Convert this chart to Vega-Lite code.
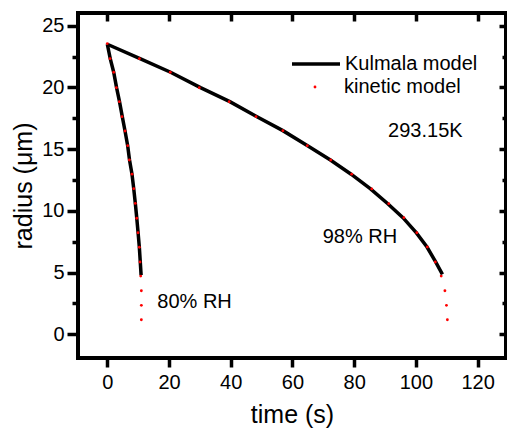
{
  "$schema": "https://vega.github.io/schema/vega-lite/v6.json",
  "width": 428,
  "height": 345,
  "autosize": "none",
  "padding": {"left": 78, "top": 13, "right": 1, "bottom": 73},
  "background": "white",
  "config": {
    "view": {"stroke": "black", "strokeWidth": 4},
    "axis": {
      "grid": false,
      "domain": false,
      "labelFont": "Liberation Sans",
      "titleFont": "Liberation Sans",
      "labelColor": "black",
      "titleColor": "black",
      "tickColor": "black",
      "tickWidth": 3.5,
      "labelFontSize": 20,
      "titleFontSize": 25,
      "titleFontWeight": "normal"
    },
    "legend": {
      "labelFont": "Liberation Sans",
      "labelFontSize": 20,
      "labelColor": "black",
      "padding": 0
    },
    "text": {"font": "Liberation Sans", "fontSize": 20, "color": "black"}
  },
  "data": {
    "values": [
      {"model": "Kulmala model", "rh": "80", "t": 0, "r": 23.5},
      {"model": "Kulmala model", "rh": "80", "t": 0.95, "r": 22.33},
      {"model": "Kulmala model", "rh": "80", "t": 2.07, "r": 21.23},
      {"model": "Kulmala model", "rh": "80", "t": 3.0, "r": 19.98},
      {"model": "Kulmala model", "rh": "80", "t": 3.95, "r": 18.85},
      {"model": "Kulmala model", "rh": "80", "t": 4.85, "r": 17.63},
      {"model": "Kulmala model", "rh": "80", "t": 5.74, "r": 16.47},
      {"model": "Kulmala model", "rh": "80", "t": 6.6, "r": 15.28},
      {"model": "Kulmala model", "rh": "80", "t": 7.2, "r": 14.12},
      {"model": "Kulmala model", "rh": "80", "t": 8.0, "r": 12.97},
      {"model": "Kulmala model", "rh": "80", "t": 8.56, "r": 11.8},
      {"model": "Kulmala model", "rh": "80", "t": 9.08, "r": 10.6},
      {"model": "Kulmala model", "rh": "80", "t": 9.55, "r": 9.4},
      {"model": "Kulmala model", "rh": "80", "t": 9.97, "r": 8.23},
      {"model": "Kulmala model", "rh": "80", "t": 10.38, "r": 7.05},
      {"model": "Kulmala model", "rh": "80", "t": 10.68, "r": 5.86},
      {"model": "Kulmala model", "rh": "80", "t": 10.95, "r": 4.8},
      {"model": "Kulmala model", "rh": "98", "t": 0, "r": 23.5},
      {"model": "Kulmala model", "rh": "98", "t": 10.6, "r": 22.33},
      {"model": "Kulmala model", "rh": "98", "t": 20.5, "r": 21.23},
      {"model": "Kulmala model", "rh": "98", "t": 30.2, "r": 19.98},
      {"model": "Kulmala model", "rh": "98", "t": 39.7, "r": 18.85},
      {"model": "Kulmala model", "rh": "98", "t": 48.5, "r": 17.63},
      {"model": "Kulmala model", "rh": "98", "t": 56.9, "r": 16.5},
      {"model": "Kulmala model", "rh": "98", "t": 64.9, "r": 15.28},
      {"model": "Kulmala model", "rh": "98", "t": 72.3, "r": 14.12},
      {"model": "Kulmala model", "rh": "98", "t": 79.0, "r": 12.97},
      {"model": "Kulmala model", "rh": "98", "t": 85.3, "r": 11.78},
      {"model": "Kulmala model", "rh": "98", "t": 90.9, "r": 10.58},
      {"model": "Kulmala model", "rh": "98", "t": 95.8, "r": 9.45},
      {"model": "Kulmala model", "rh": "98", "t": 100.1, "r": 8.23},
      {"model": "Kulmala model", "rh": "98", "t": 103.6, "r": 7.07},
      {"model": "Kulmala model", "rh": "98", "t": 106.4, "r": 5.86},
      {"model": "Kulmala model", "rh": "98", "t": 108.6, "r": 4.85},
      {"model": "kinetic model", "rh": "80", "t": 0, "r": 23.55},
      {"model": "kinetic model", "rh": "80", "t": 0.88, "r": 22.33},
      {"model": "kinetic model", "rh": "80", "t": 2.07, "r": 21.23},
      {"model": "kinetic model", "rh": "80", "t": 2.93, "r": 19.98},
      {"model": "kinetic model", "rh": "80", "t": 3.9, "r": 18.85},
      {"model": "kinetic model", "rh": "80", "t": 4.76, "r": 17.63},
      {"model": "kinetic model", "rh": "80", "t": 5.74, "r": 16.47},
      {"model": "kinetic model", "rh": "80", "t": 6.6, "r": 15.28},
      {"model": "kinetic model", "rh": "80", "t": 7.14, "r": 14.12},
      {"model": "kinetic model", "rh": "80", "t": 8.0, "r": 12.97},
      {"model": "kinetic model", "rh": "80", "t": 8.56, "r": 11.8},
      {"model": "kinetic model", "rh": "80", "t": 9.08, "r": 10.6},
      {"model": "kinetic model", "rh": "80", "t": 9.53, "r": 9.4},
      {"model": "kinetic model", "rh": "80", "t": 9.95, "r": 8.23},
      {"model": "kinetic model", "rh": "80", "t": 10.38, "r": 7.05},
      {"model": "kinetic model", "rh": "80", "t": 10.6, "r": 5.86},
      {"model": "kinetic model", "rh": "80", "t": 10.82, "r": 4.72},
      {"model": "kinetic model", "rh": "80", "t": 11.03, "r": 3.53},
      {"model": "kinetic model", "rh": "80", "t": 11.03, "r": 2.35},
      {"model": "kinetic model", "rh": "80", "t": 11.03, "r": 1.18},
      {"model": "kinetic model", "rh": "98", "t": 10.4, "r": 22.33},
      {"model": "kinetic model", "rh": "98", "t": 20.4, "r": 21.23},
      {"model": "kinetic model", "rh": "98", "t": 29.8, "r": 19.98},
      {"model": "kinetic model", "rh": "98", "t": 39.5, "r": 18.85},
      {"model": "kinetic model", "rh": "98", "t": 48.2, "r": 17.63},
      {"model": "kinetic model", "rh": "98", "t": 56.9, "r": 16.5},
      {"model": "kinetic model", "rh": "98", "t": 64.8, "r": 15.28},
      {"model": "kinetic model", "rh": "98", "t": 72.4, "r": 14.12},
      {"model": "kinetic model", "rh": "98", "t": 79.2, "r": 12.97},
      {"model": "kinetic model", "rh": "98", "t": 85.7, "r": 11.78},
      {"model": "kinetic model", "rh": "98", "t": 91.2, "r": 10.58},
      {"model": "kinetic model", "rh": "98", "t": 96.1, "r": 9.45},
      {"model": "kinetic model", "rh": "98", "t": 100.3, "r": 8.23},
      {"model": "kinetic model", "rh": "98", "t": 103.7, "r": 7.07},
      {"model": "kinetic model", "rh": "98", "t": 106.3, "r": 5.86},
      {"model": "kinetic model", "rh": "98", "t": 108.2, "r": 4.72},
      {"model": "kinetic model", "rh": "98", "t": 109.4, "r": 3.53},
      {"model": "kinetic model", "rh": "98", "t": 109.9, "r": 2.35},
      {"model": "kinetic model", "rh": "98", "t": 110.2, "r": 1.18}
    ]
  },
  "resolve": {"axis": {"x": "independent", "y": "independent"}},
  "layer": [
    {
      "transform": [{"filter": "datum.model == 'Kulmala model'"}],
      "mark": {"type": "line", "strokeWidth": 3.5, "strokeCap": "butt"},
      "encoding": {
        "x": {"field": "t", "type": "quantitative",
          "scale": {"domain": [-9.5, 129.2], "nice": false, "zero": false},
          "axis": {"orient": "bottom", "values": [0, 20, 40, 60, 80, 100, 120], "tickSize": 9, "labelPadding": 5, "title": "time (s)", "titlePadding": 10}},
        "y": {"field": "r", "type": "quantitative",
          "scale": {"domain": [-1.92, 26.03], "nice": false, "zero": false},
          "axis": {"orient": "left", "values": [0, 5, 10, 15, 20, 25], "tickSize": 11, "labelPadding": 3, "title": "radius (μm)", "titlePadding": 5}},
        "detail": {"field": "rh"},
        "order": {"field": "r", "sort": "descending"},
        "stroke": {"field": "model", "type": "nominal",
          "scale": {"domain": ["Kulmala model"], "range": ["black"]},
          "legend": {"orient": "none", "legendX": 212, "legendY": 25, "title": null, "symbolType": "stroke", "symbolSize": 2304, "symbolStrokeWidth": 3.5, "symbolStrokeColor": "black", "labelOffset": 3}}
      }
    },
    {
      "transform": [{"filter": "datum.model == 'kinetic model'"}],
      "mark": {"type": "point", "filled": true, "size": 8, "opacity": 1, "strokeWidth": 0},
      "encoding": {
        "x": {"field": "t", "type": "quantitative",
          "scale": {"domain": [-9.5, 129.2], "nice": false, "zero": false},
          "axis": {"orient": "top", "values": [0, 20, 40, 60, 80, 100, 120], "tickSize": -8, "labels": false, "title": null}},
        "y": {"field": "r", "type": "quantitative",
          "scale": {"domain": [-1.92, 26.03], "nice": false, "zero": false},
          "axis": {"orient": "right", "values": [0, 5, 10, 15, 20, 25], "tickSize": -7, "labels": false, "title": null}},
        "fill": {"field": "model", "type": "nominal",
          "scale": {"domain": ["kinetic model"], "range": ["red"]},
          "legend": {"orient": "none", "legendX": 227, "legendY": 64, "title": null, "symbolType": "circle", "symbolSize": 8, "symbolStrokeWidth": 0, "symbolFillColor": "red", "labelOffset": 19}}
      }
    },
    {
      "data": {"values": [{}]},
      "mark": {"type": "text", "align": "left", "baseline": "alphabetic"},
      "encoding": {
        "x": {"datum": 16.2, "type": "quantitative", "scale": {"domain": [-9.5, 129.2], "nice": false, "zero": false}, "axis": null},
        "y": {"datum": 2.13, "type": "quantitative", "scale": {"domain": [-1.92, 26.03], "nice": false, "zero": false},
          "axis": {"orient": "left", "values": [2.5, 7.5, 12.5, 17.5, 22.5], "tickSize": 6, "labels": false, "title": null}},
        "text": {"value": "80% RH"}
      }
    },
    {
      "data": {"values": [{}]},
      "mark": {"type": "text", "align": "left", "baseline": "alphabetic"},
      "encoding": {
        "x": {"datum": 69.8, "type": "quantitative", "scale": {"domain": [-9.5, 129.2], "nice": false, "zero": false}, "axis": null},
        "y": {"datum": 7.37, "type": "quantitative", "scale": {"domain": [-1.92, 26.03], "nice": false, "zero": false},
          "axis": {"orient": "right", "values": [2.5, 7.5, 12.5, 17.5, 22.5], "tickSize": -4, "labels": false, "title": null}},
        "text": {"value": "98% RH"}
      }
    },
    {
      "data": {"values": [{}]},
      "mark": {"type": "text", "align": "left", "baseline": "alphabetic"},
      "encoding": {
        "x": {"datum": 91.0, "type": "quantitative", "scale": {"domain": [-9.5, 129.2], "nice": false, "zero": false}, "axis": null},
        "y": {"datum": 15.98, "type": "quantitative", "scale": {"domain": [-1.92, 26.03], "nice": false, "zero": false}, "axis": null},
        "text": {"value": "293.15K"}
      }
    }
  ]
}
